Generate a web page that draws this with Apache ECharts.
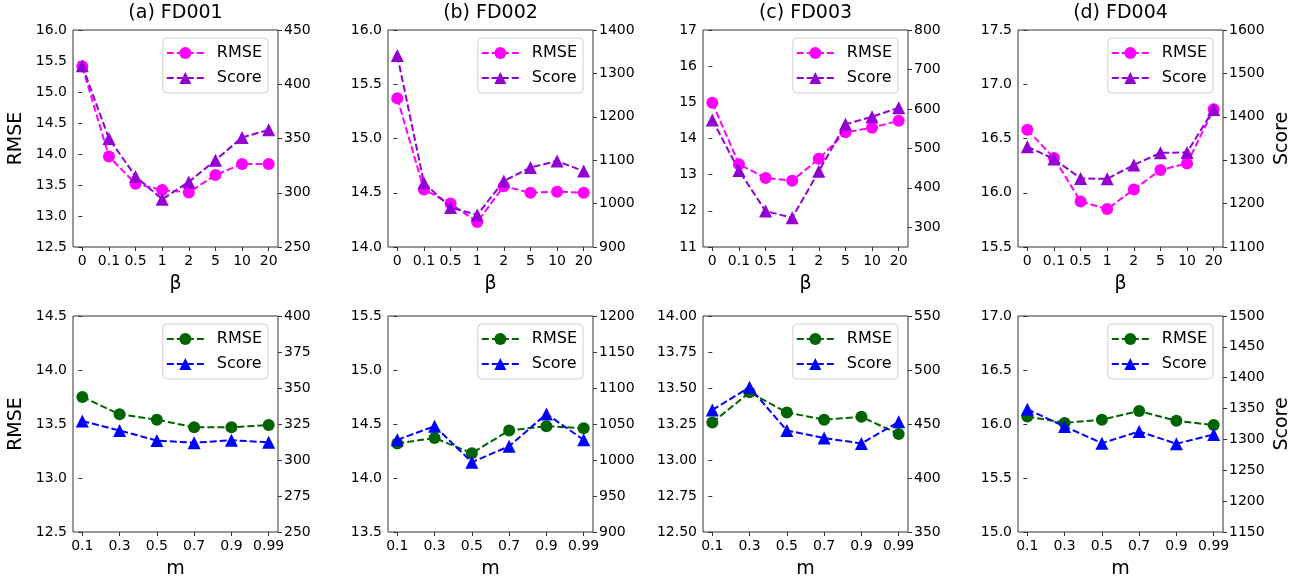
<!DOCTYPE html>
<html>
<head>
<meta charset="utf-8">
<script src="https://cdn.jsdelivr.net/npm/echarts@6/dist/echarts.min.js"></script>
<style>html,body{margin:0;padding:0;background:#fff;}#main{width:1309px;height:583px;}</style>
</head>
<body>
<div id="main"></div>
<script>
// ---- categories / tick labels ----
const betaLabels = ['0', '0.1', '0.5', '1', '2', '5', '10', '20'];
const mLabels = ['0.1', '0.3', '0.5', '0.7', '0.9', '0.99'];
const titles = ['(a) FD001', '(b) FD002', '(c) FD003', '(d) FD004'];

// ---- top row: varying beta ----
const rmseBetaFD001 = [15.41, 13.96, 13.52, 13.42, 13.38, 13.66, 13.84, 13.84];
const scoreBetaFD001 = [417, 350, 315, 294, 310, 330, 351, 358];
const rmseBetaFD002 = [15.37, 14.53, 14.40, 14.23, 14.56, 14.50, 14.51, 14.50];
const scoreBetaFD002 = [1341, 1048, 991, 974, 1052, 1083, 1098, 1075];
const rmseBetaFD003 = [14.99, 13.29, 12.91, 12.83, 13.44, 14.17, 14.30, 14.49];
const scoreBetaFD003 = [572, 444, 341, 324, 442, 561, 580, 603];
const rmseBetaFD004 = [16.58, 16.32, 15.92, 15.85, 16.03, 16.21, 16.27, 16.77];
const scoreBetaFD004 = [1331, 1303, 1258, 1257, 1289, 1317, 1318, 1417];

// ---- bottom row: varying m ----
const rmseMFD001 = [13.75, 13.59, 13.54, 13.47, 13.47, 13.49];
const scoreMFD001 = [327, 320.5, 313.5, 312, 313.7, 312.3];
const rmseMFD002 = [14.32, 14.37, 14.23, 14.44, 14.48, 14.46];
const scoreMFD002 = [1028, 1047, 997, 1019, 1064, 1028];
const rmseMFD003 = [13.26, 13.47, 13.33, 13.28, 13.30, 13.18];
const scoreMFD003 = [463, 484, 444, 437, 432, 452];
const rmseMFD004 = [16.07, 16.01, 16.04, 16.12, 16.03, 15.99];
const scoreMFD004 = [1349, 1321, 1294, 1313, 1293, 1308];

// ---- axis ranges [min, max, interval] ----
const leftRanges = [[12.5, 16, 0.5], [14, 16, 0.5], [11, 17, 1], [15.5, 17.5, 0.5],
                    [12.5, 14.5, 0.5], [13.5, 15.5, 0.5], [12.5, 14, 0.25], [15, 17, 0.5]];
const rightRanges = [[250, 450, 50], [900, 1400, 100], [250, 800, 50], [1100, 1600, 100],
                     [250, 400, 25], [900, 1200, 50], [350, 550, 50], [1150, 1500, 50]];
const leftDecimals = [1, 1, 0, 1, 1, 1, 2, 1];
const scoreTicksFD003Beta = [300, 400, 500, 600, 700, 800];

const rmseAll = [rmseBetaFD001, rmseBetaFD002, rmseBetaFD003, rmseBetaFD004, rmseMFD001, rmseMFD002, rmseMFD003, rmseMFD004];
const scoreAll = [scoreBetaFD001, scoreBetaFD002, scoreBetaFD003, scoreBetaFD004, scoreMFD001, scoreMFD002, scoreMFD003, scoreMFD004];

const FONT = 'DejaVu Sans';
const colLefts = [73, 388, 703, 1018];
const plotW = 205;
const rowTops = [30, 316];
const rowH = [217, 216];
const colors = [
  { rmse: '#ff00ff', score: '#9400d3' },
  { rmse: '#006400', score: '#0000ff' }
];

const option = {
  animation: false,
  backgroundColor: '#ffffff',
  title: [], grid: [], xAxis: [], yAxis: [], legend: [], series: []
};

for (let k = 0; k < 8; k++) {
  const r = k < 4 ? 0 : 1;
  const c = k % 4;
  const labels = r === 0 ? betaLabels : mLabels;
  const n = labels.length;
  const pad = (n - 1) * 0.05;
  const left = colLefts[c];
  const top = rowTops[r];

  if (r === 0) {
    option.title.push({
      text: titles[c], left: left + plotW / 2, top: 4, textAlign: 'center', padding: 0,
      textStyle: { fontFamily: FONT, fontSize: 19, fontWeight: 'normal', color: '#000' }
    });
  }

  option.grid.push({
    left: left, top: top, width: plotW, height: rowH[r],
    show: true, borderColor: '#333', borderWidth: 1, backgroundColor: 'transparent'
  });

  const idx = labels.map((_, j) => j);
  option.xAxis.push({
    type: 'value', gridIndex: k, min: -pad, max: n - 1 + pad,
    name: r === 0 ? 'β' : 'm', nameLocation: 'middle', nameGap: 28,
    nameTextStyle: { fontFamily: FONT, fontSize: 19, color: '#000' },
    axisLine: { show: false },
    axisTick: { show: true, length: 4, lineStyle: { color: '#333' }, customValues: idx },
    axisLabel: {
      show: true, margin: 7, customValues: idx,
      fontFamily: FONT, fontSize: 14, color: '#000',
      formatter: v => labels[Math.round(v)]
    },
    splitLine: { show: false }
  });

  const lr = leftRanges[k];
  const dec = leftDecimals[k];
  option.yAxis.push({
    type: 'value', gridIndex: k, position: 'left',
    min: lr[0], max: lr[1], interval: lr[2],
    name: c === 0 ? 'RMSE' : '', nameLocation: 'middle', nameGap: 47,
    nameTextStyle: { fontFamily: FONT, fontSize: 19, color: '#000' },
    axisLine: { show: false },
    axisTick: { show: true, length: 4, lineStyle: { color: '#333' } },
    axisLabel: { margin: 6, fontFamily: FONT, fontSize: 14, color: '#000', formatter: v => v.toFixed(dec) },
    splitLine: { show: false }
  });

  const rr = rightRanges[k];
  const rightAxis = {
    type: 'value', gridIndex: k, position: 'right',
    min: rr[0], max: rr[1], interval: rr[2],
    name: c === 3 ? 'Score' : '', nameLocation: 'middle', nameGap: 50,
    nameTextStyle: { fontFamily: FONT, fontSize: 19, color: '#000' },
    axisLine: { show: false },
    axisTick: { show: true, length: 4, lineStyle: { color: '#333' } },
    axisLabel: { margin: 6, fontFamily: FONT, fontSize: 14, color: '#000', formatter: v => String(Math.round(v)) },
    splitLine: { show: false }
  };
  if (k === 2) {
    rightAxis.axisTick.customValues = scoreTicksFD003Beta;
    rightAxis.axisLabel.customValues = scoreTicksFD003Beta;
  }
  option.yAxis.push(rightAxis);

  const col = colors[r];
  option.series.push({
    type: 'line', name: 'RMSE', xAxisIndex: k, yAxisIndex: 2 * k,
    data: rmseAll[k].map((v, j) => [j, v]),
    symbol: 'circle', symbolSize: 12,
    itemStyle: { color: col.rmse },
    lineStyle: { color: col.rmse, width: 2, type: [7, 3] },
    z: 2
  });
  option.series.push({
    type: 'line', name: 'Score', xAxisIndex: k, yAxisIndex: 2 * k + 1,
    data: scoreAll[k].map((v, j) => [j, v]),
    symbol: 'triangle', symbolSize: 13,
    itemStyle: { color: col.score },
    lineStyle: { color: col.score, width: 2, type: [7, 3] },
    z: 3
  });

  option.legend.push({
    orient: 'vertical',
    right: 1309 - (left + plotW - 10),
    top: top + 8,
    itemWidth: 37, itemHeight: 15, itemGap: 9,
    padding: [7, 6, 7, 3],
    borderColor: '#d0d0d0', borderWidth: 1, borderRadius: 4,
    backgroundColor: 'rgba(255,255,255,0.85)',
    selectedMode: false,
    textStyle: { fontFamily: FONT, fontSize: 16, color: '#000', padding: [0, 0, 0, 8] },
    data: [
      { name: 'RMSE', itemStyle: { color: col.rmse }, lineStyle: { color: col.rmse } },
      { name: 'Score', itemStyle: { color: col.score }, lineStyle: { color: col.score } }
    ]
  });
}

const chart = echarts.init(document.getElementById('main'), null, { renderer: 'canvas' });
chart.setOption(option);
</script>
</body>
</html>
